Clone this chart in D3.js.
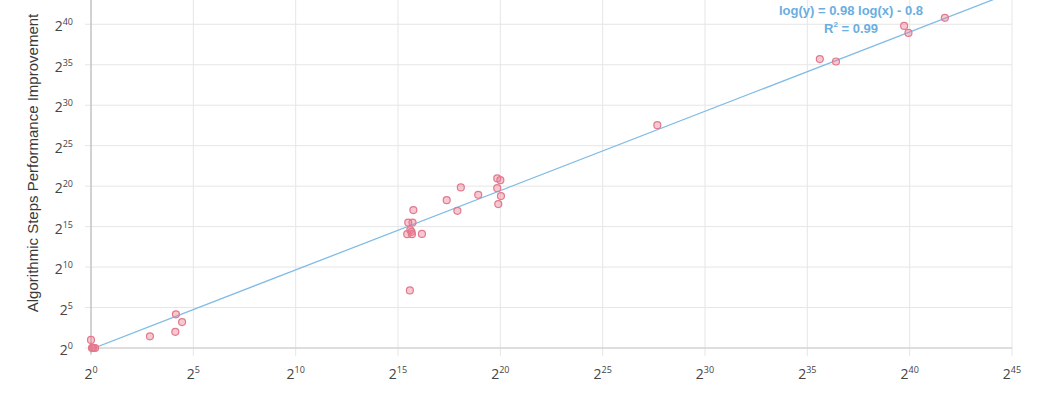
<!DOCTYPE html>
<html>
<head>
<meta charset="utf-8">
<script src="https://cdn.jsdelivr.net/npm/d3@7"></script>
<style>
  body { margin: 0; background: #fff; }
  svg { display: block; }
</style>
</head>
<body>
<div id="chart"></div>
<script>
// exponents (log2)
const pointX = [0, 0.05, 0.12, 0.2, 0.08, 2.88, 4.15, 4.45, 4.12,
    19.85, 20.0, 18.07, 19.85, 18.92, 20.03, 17.38, 19.9, 15.75, 17.9,
    15.5, 15.71, 15.6, 15.66, 15.45, 15.68, 16.17, 15.58,
    27.67, 35.61, 36.4, 39.73, 39.94, 41.72];
const pointY = [1.0, 0, 0, 0, 0.05, 1.44, 4.16, 3.2, 2.0,
    20.95, 20.74, 19.84, 19.75, 18.93, 18.77, 18.27, 17.78, 17.04, 16.95,
    15.5, 15.5, 14.57, 14.36, 14.07, 14.07, 14.1, 7.12,
    27.53, 35.7, 35.4, 39.8, 38.93, 40.8];
const xTicks = [0, 5, 10, 15, 20, 25, 30, 35, 40, 45];
const yTicks = [0, 5, 10, 15, 20, 25, 30, 35, 40];
const trendSlope = 0.98;
const trendIntercept = -0.15;
const equationText = "log(y) = 0.98 log(x) - 0.8";
const r2Value = "0.99";
const yLabel = "Algorithmic Steps Performance Improvement";

const width = 1049;
const height = 396;
const margin = { top: 0, right: 37, bottom: 48, left: 91 };

const svg = d3.select("#chart")
    .append("svg")
    .attr("width", width)
    .attr("height", height);

const x = d3.scaleLog().base(2)
    .domain([1, 2 ** 45])
    .range([margin.left, width - margin.right]);

const y = d3.scaleLog().base(2)
    .domain([1, 2 ** 43])
    .range([height - margin.bottom, margin.top]);

const x0 = margin.left, x1 = width - margin.right;
const y0 = height - margin.bottom, y1 = margin.top;

// grid
svg.append("g")
    .selectAll("line")
    .data(yTicks)
    .join("line")
    .attr("x1", x0 - 6).attr("x2", x1)
    .attr("y1", d => y(2 ** d)).attr("y2", d => y(2 ** d))
    .attr("stroke", "#e6e6e6");

svg.append("g")
    .selectAll("line")
    .data(xTicks)
    .join("line")
    .attr("x1", d => x(2 ** d)).attr("x2", d => x(2 ** d))
    .attr("y1", y1).attr("y2", y0 + 8)
    .attr("stroke", "#e6e6e6");

// axis lines
svg.append("line")
    .attr("x1", x0).attr("x2", x1).attr("y1", y0).attr("y2", y0)
    .attr("stroke", "#c8c8c8");
svg.append("line")
    .attr("x1", x0).attr("x2", x0).attr("y1", y1).attr("y2", y0 + 6)
    .attr("stroke", "#b0b0b0");

// tick labels with superscripts
function powerLabel(sel) {
    sel.append("tspan").text("2");
    sel.append("tspan")
        .attr("font-size", "9px")
        .attr("dy", "-6")
        .text(d => d);
}

svg.append("g")
    .selectAll("text")
    .data(xTicks)
    .join("text")
    .attr("x", d => x(2 ** d))
    .attr("y", y0 + 31)
    .attr("text-anchor", "middle")
    .attr("font-family", "Open Sans, sans-serif")
    .attr("font-size", "14px")
    .attr("fill", "#444")
    .call(powerLabel);

svg.append("g")
    .selectAll("text")
    .data(yTicks)
    .join("text")
    .attr("x", x0 - 18)
    .attr("y", d => y(2 ** d) + 7)
    .attr("text-anchor", "end")
    .attr("font-family", "Open Sans, sans-serif")
    .attr("font-size", "14px")
    .attr("fill", "#444")
    .call(powerLabel);

// y label
svg.append("text")
    .attr("transform", `translate(38, ${(y0 + y1) / 2 - 11}) rotate(-90)`)
    .attr("text-anchor", "middle")
    .attr("font-family", "Liberation Sans, Arial, sans-serif")
    .attr("font-size", "15px")
    .attr("fill", "#3a3a3a")
    .text(yLabel);

// trend line
svg.append("clipPath").attr("id", "plot")
    .append("rect")
    .attr("x", x0).attr("y", y1)
    .attr("width", x1 - x0).attr("height", y0 - y1);

const trend = [0.15, 45].map(e => [e, trendSlope * e + trendIntercept]);
svg.append("path")
    .attr("clip-path", "url(#plot)")
    .attr("d", d3.line()
        .x(d => x(2 ** d[0]))
        .y(d => y(2 ** d[1]))(trend))
    .attr("fill", "none")
    .attr("stroke", "#80bce6")
    .attr("stroke-width", 1.3);

// points
svg.append("g")
    .selectAll("circle")
    .data(pointX.map((d, i) => [d, pointY[i]]))
    .join("circle")
    .attr("cx", d => x(2 ** d[0]))
    .attr("cy", d => y(2 ** d[1]))
    .attr("r", 3.5)
    .attr("fill", "rgba(232, 120, 140, 0.4)")
    .attr("stroke", "#e3798f")
    .attr("stroke-width", 1.2);

// equation
const eq = svg.append("g")
    .attr("font-family", "Liberation Sans, Arial, sans-serif")
    .attr("font-size", "13px")
    .attr("font-weight", "bold")
    .attr("fill", "#6aaedf")
    .attr("text-anchor", "middle");
eq.append("text").attr("x", 851).attr("y", 15).text(equationText);
const r2 = eq.append("text").attr("x", 851).attr("y", 33);
r2.append("tspan").text("R");
r2.append("tspan").attr("font-size", "8px").attr("dy", "-6").text("2");
r2.append("tspan").attr("dy", "6").text(" = " + r2Value);
</script>
</body>
</html>
